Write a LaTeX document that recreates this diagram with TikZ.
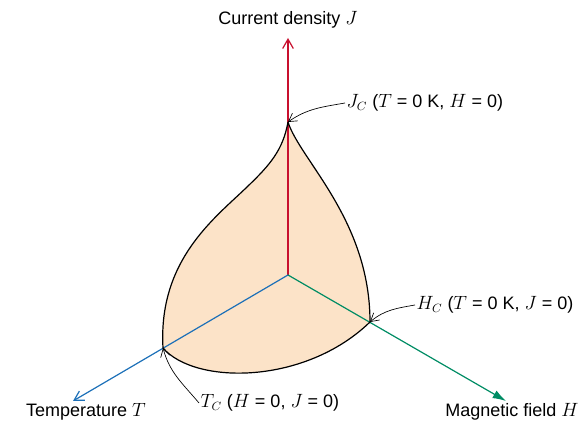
\documentclass[tikz,border=0pt]{standalone}
\usepackage{fontspec}
\setmainfont{Liberation Sans}
\usetikzlibrary{arrows.meta}
\definecolor{jaxis}{RGB}{200,16,46}
\definecolor{taxis}{RGB}{28,112,184}
\definecolor{haxis}{RGB}{0,140,100}
\definecolor{scfill}{RGB}{252,227,200}
\begin{document}
\begin{tikzpicture}[x=0.75pt,y=-0.75pt,
    scAxis/.style={line width=0.9pt},
    scEdge/.style={line width=0.9pt,black},
    scCall/.style={line width=0.5pt,-{Straight Barb[length=6pt,width=7pt]}},
    scLab/.style={font=\fontsize{13.5}{16}\selectfont,inner sep=1pt},
]
\useasboundingbox (0,0) rectangle (587,423);
% key points of the critical surface
\coordinate (O) at (288,275);
\coordinate (Jc) at (288,122);
\coordinate (Tc) at (163,348);
\coordinate (Hc) at (370,322);
\coordinate (Jm) at (247,187);
\coordinate (Jend) at (288,38);
\coordinate (Tend) at (73,401);
\coordinate (Hend) at (506,401);
% superconducting region
\fill[scfill] (Jc) .. controls (283,150) and (270,165) .. (Jm)
  .. controls (215,218) and (158,260) .. (Tc)
  .. controls (195,385) and (305,385) .. (Hc)
  .. controls (370,220) and (300,160) .. (Jc) -- cycle;
% axes
\draw[scAxis,jaxis,-{Straight Barb[length=7pt,width=8pt]}] (O) -- (Jend);
\draw[scAxis,taxis,-{Straight Barb[length=7pt,width=8pt]}] (O) -- (Tend);
\draw[scAxis,haxis,-{Latex[length=10pt,width=6.5pt]}] (O) -- (Hend);
% boundary
\draw[scEdge] (Jc) .. controls (283,150) and (270,165) .. (Jm)
  .. controls (215,218) and (158,260) .. (Tc)
  .. controls (195,385) and (305,385) .. (Hc)
  .. controls (370,220) and (300,160) .. (Jc);
% labels
\node[scLab] (jlab) at (288,20) {Current density $J$};
\node[scLab] (tlab) at (86,412) {Temperature $T$};
\node[scLab] (hlab) at (512,412) {Magnetic field $H$};
\node[scLab,anchor=west] (jclab) at (345,103) {$J_C$ ($T$ = 0 K, $H$ = 0)};
\node[scLab,anchor=west] (hclab) at (415,305) {$H_C$ ($T$ = 0 K, $J$ = 0)};
\node[scLab,anchor=west] (tclab) at (199,403) {$T_C$ ($H$ = 0, $J$ = 0)};
% callouts
\draw[scCall] (jclab.west) to[out=190,in=35] (Jc);
\draw[scCall] (hclab.west) to[out=190,in=40] (Hc);
\draw[scCall] (tclab.west) to[out=130,in=-75] (Tc);
\end{tikzpicture}
\end{document}
